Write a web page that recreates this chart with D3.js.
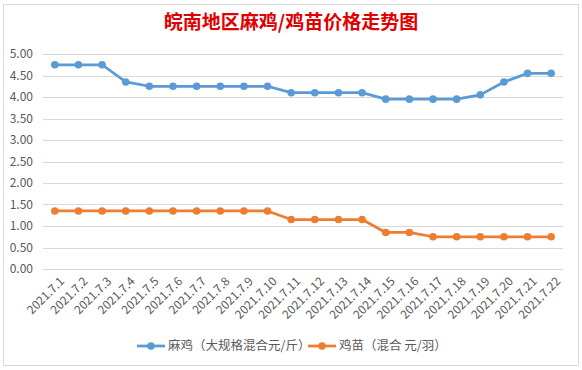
<!DOCTYPE html>
<html>
<head>
<meta charset="utf-8">
<script src="https://cdn.jsdelivr.net/npm/d3@7"></script>
<style>
  body { margin: 0; background: #fff; }
  text { font-family: "Noto Sans CJK SC", "Noto Sans", sans-serif; }
</style>
</head>
<body>
<script>
(function(){
  var width = 582;
  var height = 370;

  var dates = ["2021.7.1","2021.7.2","2021.7.3","2021.7.4","2021.7.5","2021.7.6","2021.7.7","2021.7.8",
    "2021.7.9","2021.7.10","2021.7.11","2021.7.12","2021.7.13","2021.7.14","2021.7.15","2021.7.16",
    "2021.7.17","2021.7.18","2021.7.19","2021.7.20","2021.7.21","2021.7.22"];
  var majiValues = [4.75,4.75,4.75,4.35,4.25,4.25,4.25,4.25,4.25,4.25,4.1,4.1,4.1,4.1,3.95,3.95,3.95,3.95,4.05,4.35,4.55,4.55];
  var jimiaoValues = [1.35,1.35,1.35,1.35,1.35,1.35,1.35,1.35,1.35,1.35,1.15,1.15,1.15,1.15,0.85,0.85,0.75,0.75,0.75,0.75,0.75,0.75];
  var yTicks = [0,0.5,1,1.5,2,2.5,3,3.5,4,4.5,5];
  var seriesNames = ["麻鸡（大规格混合元/斤）", "鸡苗（混合 元/羽）"];
  var seriesColors = ["#5B9BD5", "#ED7D31"];

  var svg = d3.select("body").append("svg")
    .attr("width", width)
    .attr("height", height);

  svg.append("rect")
    .attr("x", 3.5).attr("y", 4.5)
    .attr("width", 575).attr("height", 361)
    .attr("fill", "#fff")
    .attr("stroke", "#d9d9d9");

  svg.append("text")
    .attr("x", 291).attr("y", 29)
    .attr("text-anchor", "middle")
    .attr("fill", "#E00000")
    .attr("font-size", 19)
    .attr("font-weight", "bold")
    .text("皖南地区麻鸡/鸡苗价格走势图");

  var x = d3.scaleBand().domain(dates).range([43, 563]);
  var y = d3.scaleLinear().domain([0, 5]).range([269, 54]);

  // gridlines
  svg.append("g")
    .selectAll("line")
    .data(yTicks)
    .enter().append("line")
    .attr("x1", 43).attr("x2", 563)
    .attr("y1", d => Math.round(y(d)) + 0.5)
    .attr("y2", d => Math.round(y(d)) + 0.5)
    .attr("stroke", "#d9d9d9");

  var yAxis = svg.append("g")
    .attr("transform", "translate(36,0)")
    .call(d3.axisLeft(y).tickValues(yTicks).tickFormat(d3.format(".2f")).tickSize(0));
  yAxis.select(".domain").remove();
  yAxis.selectAll("text")
    .attr("fill", "#595959")
    .attr("font-size", 12)
    .attr("font-family", "'Noto Sans', sans-serif");

  var xAxis = svg.append("g")
    .attr("transform", "translate(0,274)")
    .call(d3.axisBottom(x).tickSize(0));
  xAxis.select(".domain").remove();
  xAxis.selectAll("text")
    .attr("fill", "#595959")
    .attr("font-size", 12)
    .attr("font-family", "'Noto Sans', sans-serif")
    .attr("text-anchor", "end")
    .attr("dy", "0.35em")
    .attr("transform", "translate(5,3) rotate(-45)");

  var line = d3.line()
    .x((d, i) => x(dates[i]) + x.bandwidth() / 2)
    .y(d => y(d));

  [majiValues, jimiaoValues].forEach(function(values, k) {
    svg.append("path")
      .datum(values)
      .attr("fill", "none")
      .attr("stroke", seriesColors[k])
      .attr("stroke-width", 2.75)
      .attr("stroke-linejoin", "round")
      .attr("d", line);
    svg.append("g")
      .selectAll("circle")
      .data(values)
      .enter().append("circle")
      .attr("cx", (d, i) => x(dates[i]) + x.bandwidth() / 2)
      .attr("cy", d => y(d))
      .attr("r", 3.8)
      .attr("fill", seriesColors[k]);
  });

  // legend
  var legendX = [137, 308];
  seriesNames.forEach(function(name, k) {
    var g = svg.append("g").attr("transform", "translate(" + legendX[k] + ",346)");
    g.append("line")
      .attr("x1", 0).attr("x2", 28)
      .attr("stroke", seriesColors[k])
      .attr("stroke-width", 2.75);
    g.append("circle")
      .attr("cx", 14).attr("r", 3.8)
      .attr("fill", seriesColors[k]);
    g.append("text")
      .attr("x", 31).attr("dy", "0.35em")
      .attr("fill", "#595959")
      .attr("font-size", 12.5)
      .text(name);
  });
})();
</script>
</body>
</html>
